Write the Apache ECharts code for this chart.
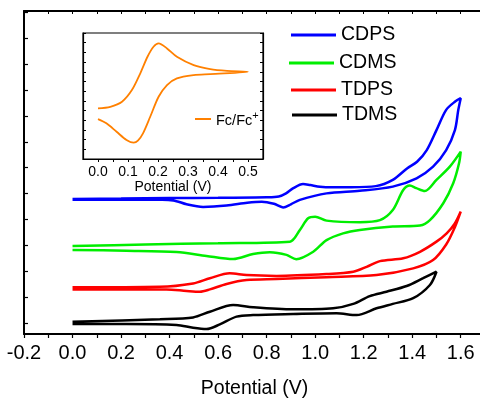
<!DOCTYPE html>
<html>
<head>
<meta charset="utf-8">
<script src="https://cdn.jsdelivr.net/npm/echarts@6/dist/echarts.min.js"></script>
<style>
  html, body { margin: 0; padding: 0; background: #fff; }
  #chart { width: 480px; height: 399px; }
</style>
</head>
<body>
<div id="chart"></div>
<script>
// CV curves, [potential (V), current (a.u.)], forward scan then back
var cdps = [[0.00,5.20],[0.20,5.22],[0.40,5.24],[0.60,5.25],[0.80,5.27],[0.85,5.30],[0.88,5.42],[0.91,5.62],[0.95,5.78],[0.98,5.74],[1.02,5.68],[1.07,5.66],[1.15,5.66],[1.25,5.70],[1.32,5.94],[1.38,6.39],[1.42,6.64],[1.46,7.09],[1.50,7.86],[1.54,8.64],[1.577,8.96],[1.60,9.09],
    [1.59,8.64],[1.576,7.86],[1.54,7.09],[1.486,6.45],[1.418,6.00],[1.32,5.68],[1.184,5.52],[1.047,5.42],[0.937,5.17],[0.90,5.00],[0.868,4.88],[0.83,5.02],[0.78,5.10],[0.72,5.06],[0.635,4.95],[0.538,4.90],[0.47,5.00],[0.415,5.15],[0.30,5.18],[0.00,5.17]]
var cdms = [[0.00,3.39],[0.30,3.45],[0.60,3.50],[0.896,3.56],[0.937,4.01],[0.971,4.46],[1.00,4.52],[1.047,4.37],[1.184,4.31],[1.267,4.39],[1.32,4.78],[1.363,5.55],[1.39,5.72],[1.417,5.62],[1.452,5.51],[1.50,5.94],[1.555,6.45],[1.60,7.03],
    [1.593,6.58],[1.569,5.81],[1.528,5.04],[1.473,4.39],[1.432,4.18],[1.32,4.14],[1.184,4.01],[1.115,3.88],[1.047,3.62],[0.992,3.17],[0.922,2.88],[0.882,3.05],[0.813,3.15],[0.744,3.08],[0.662,2.89],[0.552,3.01],[0.429,3.16],[0.222,3.21],[0.00,3.24]]
var tdps = [[0.00,1.80],[0.36,1.82],[0.497,1.95],[0.566,2.15],[0.648,2.34],[0.717,2.27],[0.841,2.24],[1.047,2.31],[1.157,2.40],[1.212,2.59],[1.267,2.81],[1.363,2.92],[1.432,3.17],[1.50,3.56],[1.542,3.88],[1.575,4.25],[1.60,4.72],
    [1.575,4.10],[1.54,3.45],[1.486,2.85],[1.404,2.53],[1.253,2.27],[1.047,2.19],[0.841,2.12],[0.717,2.08],[0.635,1.93],[0.566,1.72],[0.525,1.63],[0.47,1.66],[0.387,1.72],[0.222,1.72],[0.00,1.72]]
var tdms = [[0.00,0.47],[0.36,0.57],[0.497,0.64],[0.566,0.86],[0.662,1.12],[0.744,1.03],[0.909,0.95],[1.074,0.99],[1.157,1.16],[1.225,1.46],[1.294,1.63],[1.377,1.85],[1.445,2.15],[1.50,2.40],
    [1.473,1.89],[1.404,1.38],[1.32,1.16],[1.253,0.99],[1.171,0.73],[1.088,0.80],[0.909,0.77],[0.744,0.73],[0.676,0.67],[0.607,0.37],[0.552,0.19],[0.497,0.24],[0.429,0.35],[0.222,0.39],[0.00,0.39]]
// inset: ferrocene reference
var fc = [[0.00,5.23],[0.041,5.39],[0.08,5.91],[0.113,7.11],[0.141,8.84],[0.165,10.55],[0.185,11.58],[0.202,11.93],[0.23,11.41],[0.263,10.55],[0.319,9.69],[0.374,9.28],[0.43,9.10],[0.50,9.00],
    [0.374,8.76],[0.319,8.66],[0.263,8.32],[0.23,7.63],[0.202,6.42],[0.174,4.36],[0.15,2.65],[0.133,1.89],[0.119,1.68],[0.095,1.96],[0.062,2.81],[0.028,3.68],[0.00,4.12]]

var names = ['CDPS', 'CDMS', 'TDPS', 'TDMS']
var colors = ['#0000ff', '#00ee00', '#ff0000', '#000000']
var curves = [cdps, cdms, tdps, tdms]
var yTicks = [0.41,1.41,2.41,3.41,4.41,5.41,6.41,7.41,8.41,9.41,10.41,11.41,12.41]

var font = '"Liberation Sans", Arial, sans-serif'
var chart = echarts.init(document.getElementById('chart'))

function mainLabel(v) {
    var k = Math.round(v * 10)
    return k % 2 === 0 ? v.toFixed(1) : ''
}
function insetLabel(v) {
    var k = Math.round(v * 20)
    return k % 2 === 0 ? v.toFixed(1) : ''
}

var legendTops = [25, 53, 80, 105]
var legendLefts = [291, 289, 291, 292]
var legends = names.map(function (n, i) {
    return {
        data: [n], left: legendLefts[i], top: legendTops[i], padding: 0,
        icon: 'rect', itemWidth: 45, itemHeight: 3,
        textStyle: {fontSize: 19.5, fontFamily: font, color: '#000', lineHeight: 20}
    }
})
legends.push({
    data: ['Fc/Fc+'], left: 195, top: 110, padding: 0,
    icon: 'rect', itemWidth: 16, itemHeight: 2,
    formatter: function () { return '{a|Fc/Fc}{s|+}' },
    textStyle: {
        fontFamily: font, color: '#000',
        rich: {
            a: {fontSize: 14.5, fontFamily: font, color: '#000', lineHeight: 18, verticalAlign: 'bottom'},
            s: {fontSize: 11, fontFamily: font, color: '#000', lineHeight: 18, verticalAlign: 'top', padding: [0, 0, 6, 0]}
        }
    }
})

var series = curves.map(function (c, i) {
    return {
        name: names[i], type: 'line', data: c, xAxisIndex: 0, yAxisIndex: 0,
        showSymbol: false, smooth: 0.3, color: colors[i],
        lineStyle: {width: 2.5, color: colors[i]}
    }
})
series.push({
    name: 'Fc/Fc+', type: 'line', data: fc, xAxisIndex: 2, yAxisIndex: 1,
    showSymbol: false, smooth: 0.3, color: '#ff8000',
    lineStyle: {width: 1.8, color: '#ff8000'}
})

var option = {
    animation: false,
    backgroundColor: '#fff',
    grid: [
        {left: 24, top: 11, right: -5, bottom: 65, outerBoundsMode: 'none'},
        {left: 83, top: 33, width: 180, height: 126, outerBoundsMode: 'none', show: true, borderColor: '#000', borderWidth: 1.2, backgroundColor: '#fff'}
    ],
    legend: legends,
    xAxis: [
        {
            gridIndex: 0, type: 'value', min: -0.2, max: 1.7, interval: 0.1,
            axisLine: {onZero: false, lineStyle: {color: '#000', width: 2}},
            axisTick: {inside: false, length: 4, lineStyle: {color: '#000', width: 1.2}},
            axisLabel: {formatter: mainLabel, fontSize: 20, fontFamily: font, color: '#000', margin: 9, showMaxLabel: false},
            splitLine: {show: false},
            name: 'Potential (V)', nameLocation: 'middle', nameGap: 45,
            nameTextStyle: {fontSize: 19.5, fontFamily: font, color: '#000'}
        },
        {
            gridIndex: 0, type: 'value', position: 'top', min: -0.2, max: 1.7, interval: 0.1,
            axisLine: {onZero: false, lineStyle: {color: '#000', width: 2}},
            axisTick: {inside: true, length: 3, lineStyle: {color: '#000', width: 1}},
            axisLabel: {show: false}, splitLine: {show: false}
        },
        {
            gridIndex: 1, type: 'value', min: -0.05, max: 0.55, interval: 0.05,
            axisLine: {onZero: false, lineStyle: {color: '#000', width: 1.2}},
            axisTick: {inside: false, length: 3, lineStyle: {color: '#000', width: 1}},
            axisLabel: {formatter: insetLabel, fontSize: 14, fontFamily: font, color: '#000', margin: 6, showMinLabel: false, showMaxLabel: false},
            splitLine: {show: false},
            name: 'Potential (V)', nameLocation: 'middle', nameGap: 20,
            nameTextStyle: {fontSize: 14, fontFamily: font, color: '#000'}
        }
    ],
    yAxis: [
        {
            gridIndex: 0, type: 'value', min: 0, max: 12.45,
            axisLine: {show: true, onZero: false, lineStyle: {color: '#000', width: 2}},
            axisTick: {show: true, inside: true, length: 4, customValues: yTicks, lineStyle: {color: '#000', width: 1.2}},
            axisLabel: {show: false}, splitLine: {show: false}
        },
        {
            gridIndex: 1, type: 'value', min: 0, max: 13, interval: 1,
            axisLine: {show: true, onZero: false, lineStyle: {color: '#000', width: 1.2}},
            axisTick: {show: true, inside: true, length: 3, lineStyle: {color: '#000', width: 1}},
            axisLabel: {show: false}, splitLine: {show: false}
        },
        {
            gridIndex: 1, type: 'value', position: 'right', min: 0, max: 13, interval: 1,
            axisLine: {show: true, onZero: false, lineStyle: {color: '#000', width: 1.2}},
            axisTick: {show: true, inside: true, length: 3, lineStyle: {color: '#000', width: 1}},
            axisLabel: {show: false}, splitLine: {show: false}
        }
    ],
    series: series
}
chart.setOption(option)
</script>
</body>
</html>
